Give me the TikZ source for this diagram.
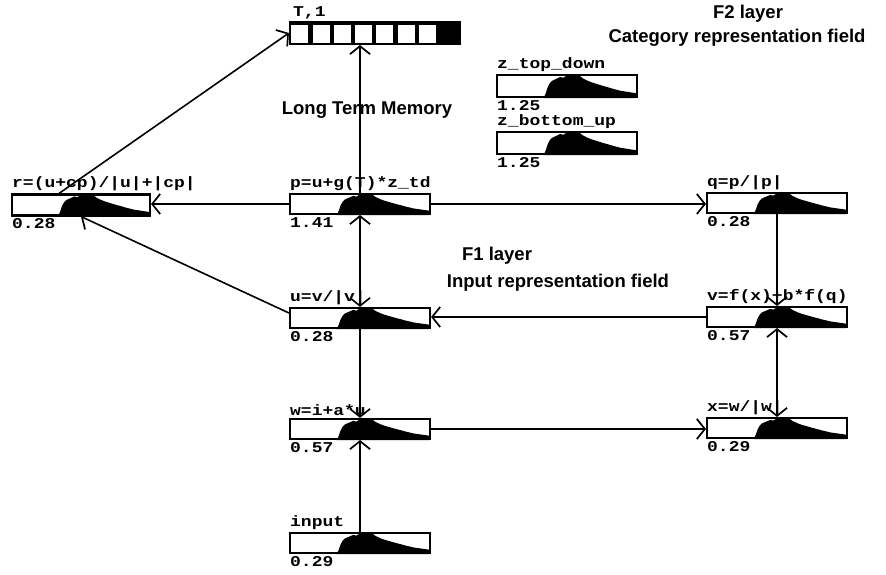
\documentclass[tikz,border=0pt]{standalone}
\usepackage{fontspec}
\setmainfont{Liberation Sans}
\newfontfamily\monob{Liberation Mono}[UprightFont=* Bold]
\usetikzlibrary{arrows.meta}
\newcommand\lt[1]{\scalebox{1.2}[1]{#1}}
\newcommand\drawhist[3]{%
  \fill[shift={(#1.south west)}, xscale=#2, yscale=#3]
    (0.34,0) -- (0.355,0.2) -- (0.37,0.5) -- (0.385,0.68) -- (0.40,0.78) -- (0.42,0.84)
    -- (0.44,0.9) -- (0.46,0.96) -- (0.48,0.92) -- (0.50,1) -- (0.60,1) -- (0.62,0.9)
    -- (0.65,0.8) -- (0.68,0.72) -- (0.71,0.66) -- (0.74,0.6) -- (0.77,0.54)
    -- (0.80,0.49) -- (0.83,0.43) -- (0.86,0.38) -- (0.89,0.33) -- (0.92,0.3)
    -- (0.95,0.27) -- (0.98,0.24) -- (1,0.22) -- (1,0) -- cycle;}
\tikzset{
  x=1pt, y=1pt,
  hb/.style={draw, line width=2.1pt, minimum width=140pt, minimum height=20pt, inner sep=0pt, fill=white},
  lab/.style={font=\monob\fontsize{15}{15}\selectfont, inner sep=0pt},
  ttl/.style={font=\bfseries\fontsize{18.5}{18.5}\selectfont, inner sep=0pt},
  barb/.tip={Straight Barb[length=8pt,width=20pt,line width=1.7pt]},
  arr/.style={line width=1.6pt, -barb},
  darr/.style={line width=1.6pt, barb-barb},
}
\begin{document}
\begin{tikzpicture}
\useasboundingbox (0,0) rectangle (886,575);
% boxes
\node[hb, minimum width=170pt, minimum height=22pt, fill=black] (T) at (375,542) {};
\foreach \i in {0,...,6} {
  \fill[white] ([xshift=\i*21.25pt+2.4pt, yshift=2.4pt]T.south west) rectangle ++(17pt,17.2pt);
}
\node[hb, minimum width=138pt, minimum height=21pt] (r) at (81,370) {};
\node[hb] (p) at (360,371) {};
\node[hb] (q) at (777,372) {};
\node[hb] (u) at (360,257) {};
\node[hb] (v) at (777,258) {};
\node[hb] (w) at (360,146) {};
\node[hb] (x) at (777,147) {};
\node[hb] (in) at (360,32) {};
\node[hb, minimum height=22pt] (ztd) at (567,489) {};
\node[hb, minimum height=22pt] (zbu) at (567,432) {};
\drawhist{r}{138}{21}
\drawhist{p}{140}{20}
\drawhist{q}{140}{20}
\drawhist{u}{140}{20}
\drawhist{v}{140}{20}
\drawhist{w}{140}{20}
\drawhist{x}{140}{20}
\drawhist{in}{140}{20}
\drawhist{ztd}{140}{22}
\drawhist{zbu}{140}{22}
% labels above
\node[lab, anchor=south west] (TL) at ([xshift=4pt, yshift=2pt]T.north west) {\lt{T,1}};
\node[lab, anchor=south west] (rL) at ([xshift=1pt, yshift=2pt]r.north west) {\lt{r=(u+cp)/|u|+|cp|}};
\node[lab, anchor=south west] (pL) at ([xshift=1pt, yshift=2pt]p.north west) {\lt{p=u+g(T)*z\_td}};
\node[lab, anchor=south west] (qL) at ([xshift=1pt, yshift=2pt]q.north west) {\lt{q=p/|p|}};
\node[lab, anchor=south west] (uL) at ([xshift=1pt, yshift=2pt]u.north west) {\lt{u=v/|v|}};
\node[lab, anchor=south west] (vL) at ([xshift=1pt, yshift=2pt]v.north west) {\lt{v=f(x)+b*f(q)}};
\node[lab, anchor=south west] (wL) at ([xshift=1pt, yshift=2pt]w.north west) {\lt{w=i+a*u}};
\node[lab, anchor=south west] (xL) at ([xshift=1pt, yshift=2pt]x.north west) {\lt{x=w/|w|}};
\node[lab, anchor=south west] (inL) at ([xshift=1pt, yshift=2pt]in.north west) {\lt{input}};
\node[lab, anchor=south west] (ztdL) at ([xshift=1pt, yshift=2pt]ztd.north west) {\lt{z\_top\_down}};
\node[lab, anchor=south west] (zbuL) at ([xshift=1pt, yshift=2pt]zbu.north west) {\lt{z\_bottom\_up}};
% values below
\node[lab, anchor=north west] (rV) at ([xshift=1pt, yshift=-2pt]r.south west) {\lt{0.28}};
\node[lab, anchor=north west] (pV) at ([xshift=1pt, yshift=-2pt]p.south west) {\lt{1.41}};
\node[lab, anchor=north west] (qV) at ([xshift=1pt, yshift=-2pt]q.south west) {\lt{0.28}};
\node[lab, anchor=north west] (uV) at ([xshift=1pt, yshift=-2pt]u.south west) {\lt{0.28}};
\node[lab, anchor=north west] (vV) at ([xshift=1pt, yshift=-2pt]v.south west) {\lt{0.57}};
\node[lab, anchor=north west] (wV) at ([xshift=1pt, yshift=-2pt]w.south west) {\lt{0.57}};
\node[lab, anchor=north west] (xV) at ([xshift=1pt, yshift=-2pt]x.south west) {\lt{0.29}};
\node[lab, anchor=north west] (inV) at ([xshift=1pt, yshift=-2pt]in.south west) {\lt{0.29}};
\node[lab, anchor=north west] (ztdV) at ([xshift=1pt, yshift=-2pt]ztd.south west) {\lt{1.25}};
\node[lab, anchor=north west] (zbuV) at ([xshift=1pt, yshift=-2pt]zbu.south west) {\lt{1.25}};
% titles
\node[ttl] (f2) at (748,561) {F2 layer};
\node[ttl] (f2b) at (737,537) {Category representation field};
\node[ttl] (ltm) at (367,465) {Long Term Memory};
\node[ttl] (f1) at (497,319) {F1 layer};
\node[ttl] (f1b) at (558,292) {Input representation field};
% connectors
\draw[arr] (p.north) -- (p.north |- T.south);
\draw[darr] (p.south) -- (u.north);
\draw[arr] (u.south) -- (w.north);
\draw[arr] (in.north) -- (w.south);
\draw[arr] (w.east) -- (w.east -| x.west);
\draw[darr] (v.south) -- (x.north);
\draw[arr] (q.south) -- (v.north);
\draw[arr] (v.west) -- (v.west -| u.east);
\draw[arr] (p.east) -- (p.east -| q.west);
\draw[arr] (p.west) -- (p.west -| r.east);
\draw[arr] ([yshift=5pt]u.west) -- (r.south);
\draw[arr] ([xshift=-22pt]r.north) -- (T.west);
\end{tikzpicture}
\end{document}
